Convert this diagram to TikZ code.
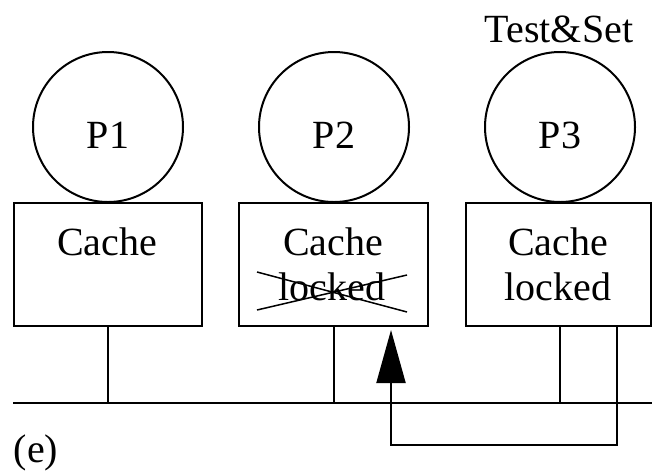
\documentclass[tikz,border=0pt]{standalone}
\usepackage{fontspec}
\setmainfont{Liberation Serif}
\usetikzlibrary{arrows.meta}
\begin{document}
\begin{tikzpicture}[x=1pt,y=-1pt,line width=2pt,
  bigfont/.style={font=\fontsize{40}{44}\selectfont},
  proc/.style={draw,circle,minimum size=150pt,inner sep=0pt},
  cachebox/.style={draw,rectangle,anchor=north west,inner sep=0pt,minimum height=123pt},
  lbl/.style={bigfont,anchor=base,inner sep=0pt}]
\useasboundingbox (0,0) rectangle (652,472);
% processors
\node[proc] (p1) at (108,127) {};
\node[proc] (p2) at (334,127) {};
\node[proc] (p3) at (560,127) {};
\node[lbl] (p1t) at (108,148) {P1};
\node[lbl] (p2t) at (334,148) {P2};
\node[lbl] (p3t) at (560,148) {P3};
\node[lbl] (ts) at (559,42) {Test\&Set};
% caches
\node[cachebox,minimum width=188pt] (c1) at (13,202) {};
\node[cachebox,minimum width=189pt] (c2) at (238,202) {};
\node[cachebox,minimum width=185pt] (c3) at (465,202) {};
\node[lbl] (c1a) at (107,255) {Cache};
\node[lbl] (c2a) at (333,255) {Cache};
\node[lbl] (c2b) at (332,300) {locked};
\node[lbl] (c3a) at (558,255) {Cache};
\node[lbl] (c3b) at (558,300) {locked};
% cross-out
\draw[line width=1.5pt] ([shift={(-75pt,28pt)}]c2b.base) -- ([shift={(75pt,-12pt)}]c2b.base);
\draw[line width=1.5pt] ([shift={(-75pt,-10pt)}]c2b.base) -- ([shift={(75pt,25pt)}]c2b.base);
% bus
\coordinate (busL) at (13,403);
\coordinate (busR) at (652,403);
\draw (busL) -- (busR);
\draw (c1.south) -- (c1.south |- busL);
\draw (c2.south) -- (c2.south |- busL);
\draw ([xshift=1.5pt]c3.south) -- ([xshift=1.5pt]c3.south |- busL);
% signal back to P2
\draw[-{Triangle[length=53pt,width=29pt]}] ([xshift=58.5pt]c3.south) -- ++(0,118) -| ([xshift=57.5pt,yshift=-3pt]c2.south);
% label
\node[lbl] (lab) at (36,462) {(e)};
\end{tikzpicture}
\end{document}
